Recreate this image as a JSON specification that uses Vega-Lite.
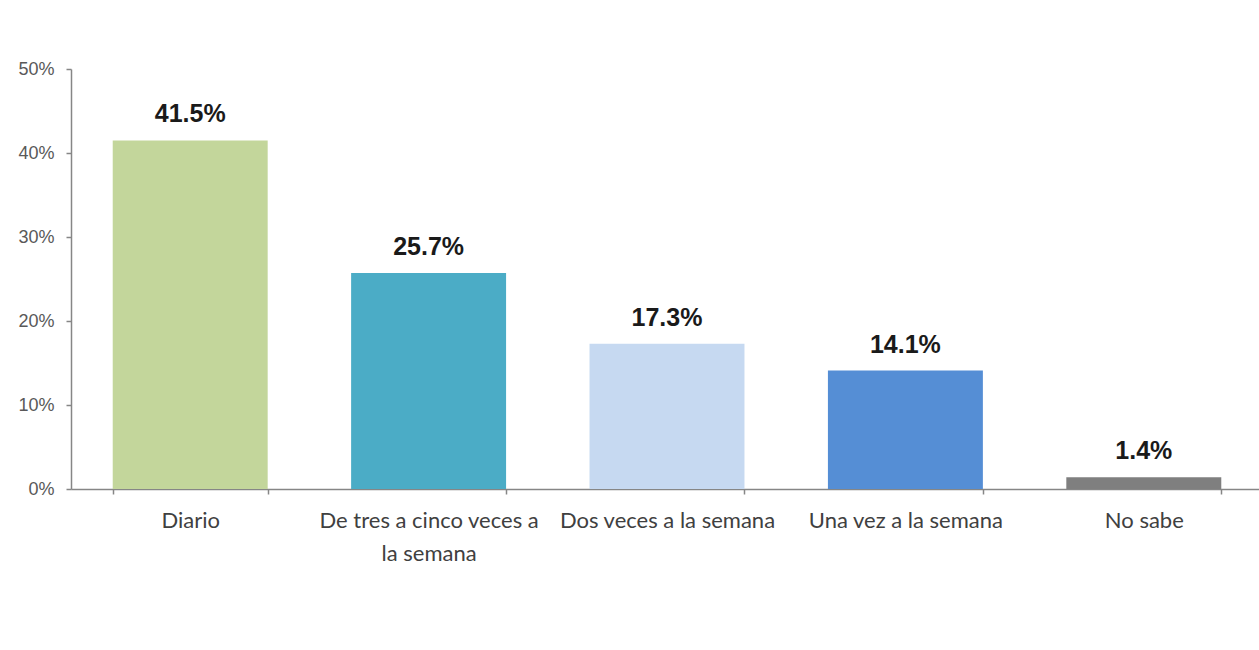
{
  "$schema": "https://vega.github.io/schema/vega-lite/v6.json",
  "autosize": {"type": "none"},
  "padding": {"left": 71, "top": 69, "right": 0, "bottom": 161},
  "width": 1192,
  "height": 420,
  "background": "white",
  "config": {"view": {"stroke": null}},
  "data": {
    "values": [
      {"cat": "Diario", "pct": 0.415, "label": "41.5%"},
      {"cat": "De tres a cinco veces a la semana", "pct": 0.257, "label": "25.7%"},
      {"cat": "Dos veces a la semana", "pct": 0.173, "label": "17.3%"},
      {"cat": "Una vez a la semana", "pct": 0.141, "label": "14.1%"},
      {"cat": "No sabe", "pct": 0.014, "label": "1.4%"}
    ]
  },
  "encoding": {
    "x": {
      "field": "cat",
      "type": "nominal",
      "sort": null,
      "scale": {"paddingInner": 0.35, "paddingOuter": 0.175},
      "axis": {
        "title": null,
        "labelAngle": 0,
        "labelFont": "Lato",
        "labelFontSize": 22,
        "labelColor": "#404040",
        "labelPadding": 16,
        "labelLineHeight": 33,
        "labelBaseline": "top",
        "labelLimit": 400,
        "labelOverlap": false,
        "labelExpr": "datum.value == 'De tres a cinco veces a la semana' ? ['De tres a cinco veces a', 'la semana'] : datum.value",
        "tickBand": "extent",
        "tickSize": 5,
        "tickColor": "#868686",
        "domainColor": "#868686",
        "domainWidth": 1.5,
        "tickWidth": 1.5
      }
    }
  },
  "layer": [
    {
      "mark": {"type": "bar"},
      "encoding": {
        "y": {
          "field": "pct",
          "type": "quantitative",
          "scale": {"domain": [0, 0.5]},
          "axis": {
            "title": null,
            "format": ".0%",
            "values": [0, 0.1, 0.2, 0.3, 0.4, 0.5],
            "grid": false,
            "labelOverlap": false,
            "labelFlush": false,
            "labelFont": "Liberation Sans",
            "labelFontSize": 18,
            "labelColor": "#595959",
            "labelPadding": 12,
            "tickSize": 5,
            "tickColor": "#868686",
            "tickWidth": 1.5,
            "domainColor": "#868686",
            "domainWidth": 1.5
          }
        },
        "color": {
          "field": "cat",
          "type": "nominal",
          "sort": null,
          "legend": null,
          "scale": {
            "domain": ["Diario", "De tres a cinco veces a la semana", "Dos veces a la semana", "Una vez a la semana", "No sabe"],
            "range": ["#C3D69B", "#4BACC6", "#C6D9F1", "#558ED5", "#7F7F7F"]
          }
        }
      }
    },
    {
      "mark": {"type": "text", "font": "Liberation Sans", "fontWeight": "bold", "fontSize": 25, "color": "#1a1a1a", "baseline": "alphabetic", "dy": -18},
      "encoding": {
        "y": {"field": "pct", "type": "quantitative"},
        "text": {"field": "label"}
      }
    }
  ]
}
